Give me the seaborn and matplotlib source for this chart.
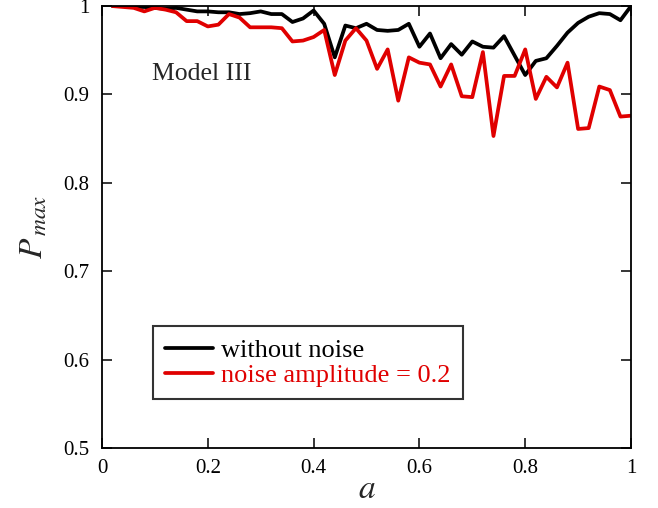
import numpy as np
import pandas as pd
import seaborn as sns
import matplotlib
matplotlib.use('Agg')
import matplotlib.pyplot as plt

# valores (a = 0.02 ... 1.00)
a_vals = [round(0.02 * k, 2) for k in range(1, 51)]

sem_ruido = [1.000, 1.000, 0.999, 0.999, 0.998, 0.997, 0.998, 0.996, 0.994, 0.994,
             0.993, 0.993, 0.991, 0.992, 0.994, 0.991, 0.991, 0.982, 0.986, 0.995,
             0.980, 0.942, 0.978, 0.975, 0.980, 0.973, 0.972, 0.973, 0.980, 0.954,
             0.969, 0.941, 0.957, 0.945, 0.960, 0.954, 0.953, 0.966, 0.944, 0.922,
             0.938, 0.941, 0.955, 0.970, 0.981, 0.988, 0.992, 0.991, 0.984, 1.000]

com_ruido = [1.000, 0.999, 0.998, 0.994, 0.998, 0.996, 0.993, 0.983, 0.983, 0.977,
             0.979, 0.991, 0.987, 0.976, 0.976, 0.976, 0.975, 0.960, 0.961, 0.965,
             0.973, 0.922, 0.961, 0.975, 0.961, 0.929, 0.951, 0.893, 0.942, 0.936,
             0.934, 0.909, 0.934, 0.898, 0.897, 0.948, 0.853, 0.921, 0.921, 0.951,
             0.895, 0.920, 0.908, 0.936, 0.861, 0.862, 0.909, 0.905, 0.875, 0.876]

rotulos = ['without noise', 'noise amplitude = 0.2']
cores = ['black', '#e00000']

x_ticks = [0, 0.2, 0.4, 0.6, 0.8, 1]
x_ticklabels = ['0', '0.2', '0.4', '0.6', '0.8', '1']
y_ticks = [0.5, 0.6, 0.7, 0.8, 0.9, 1]
y_ticklabels = ['0.5', '0.6', '0.7', '0.8', '0.9', '1']

dados = pd.DataFrame({'a': a_vals * 2,
                      'P': sem_ruido + com_ruido,
                      'serie': [rotulos[0]] * 50 + [rotulos[1]] * 50})

sns.set_style('ticks')
plt.rcParams['font.family'] = ['Liberation Serif', 'DejaVu Serif']
plt.rcParams['mathtext.fontset'] = 'stix'

f = plt.figure(figsize=(6.58, 5.08), dpi=100)
ax = f.add_axes([0.155, 0.118, 0.804, 0.870])

sns.lineplot(data=dados, x='a', y='P', hue='serie', palette=cores,
             hue_order=rotulos, linewidth=2.7, ax=ax)

ax.set_xlim(0, 1)
ax.set_ylim(0.5, 1)
ax.set_xticks(x_ticks)
ax.set_xticklabels(x_ticklabels)
ax.set_yticks(y_ticks)
ax.set_yticklabels(y_ticklabels)
ax.tick_params(direction='in', top=True, right=True, length=7, width=1.1,
               labelsize=15, colors='black')
ax.tick_params(axis='x', pad=8)
ax.tick_params(axis='y', pad=9)
for s in ax.spines.values():
    s.set_linewidth(1.3)
    s.set_color('black')

ax.set_xlabel(r'$a$', fontsize=24, labelpad=-3)
ax.set_ylabel(r'$P_{\,max}$', fontsize=24, labelpad=10)

ax.text(0.095, 0.846, 'Model III', transform=ax.transAxes, fontsize=18.5,
        ha='left', va='center')

leg = ax.legend(loc='lower left', bbox_to_anchor=(0.096, 0.111), fontsize=19,
                frameon=True, fancybox=False, handlelength=1.85,
                handletextpad=0.3, borderpad=0.45, labelspacing=0.07,
                borderaxespad=0)
leg.get_frame().set_edgecolor('black')
leg.get_frame().set_linewidth(1.5)
for txt, c in zip(leg.get_texts(), cores):
    txt.set_color(c)

f.savefig('out.png', dpi=100)
